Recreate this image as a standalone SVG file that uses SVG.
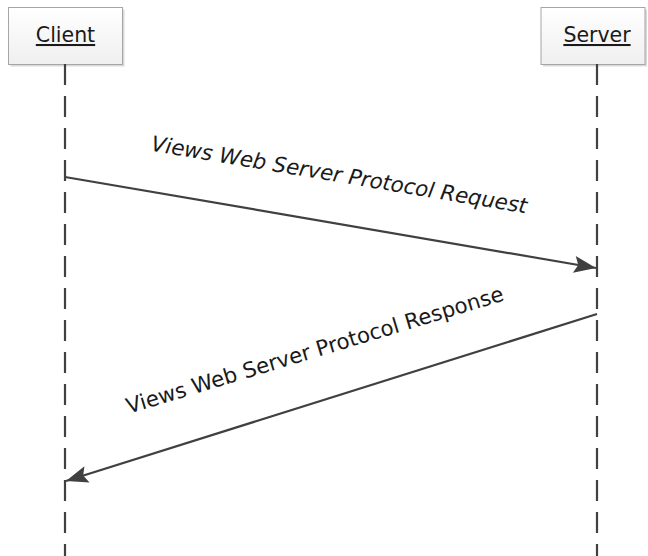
<svg xmlns="http://www.w3.org/2000/svg" width="648" height="556" viewBox="0 0 648 556">
<style>
.box{fill:url(#g);stroke:#a6a6a6;stroke-width:1}
.shadow{fill:#d9d9d9}
.name{font-family:"DejaVu Sans",Verdana,sans-serif;font-size:20.5px;fill:#1a1a1a;text-anchor:middle;text-decoration:underline}
.life{stroke:#404040;stroke-width:2.2;stroke-dasharray:21 11;fill:none}
.msg{stroke:#404040;stroke-width:2.2;fill:none}
.lbl{font-family:"DejaVu Sans",Verdana,sans-serif;font-size:21.3px;fill:#1a1a1a;text-anchor:middle}
</style>
<defs>
<linearGradient id="g" x1="0" y1="0" x2="0" y2="1">
<stop offset="0" stop-color="#ffffff"/>
<stop offset="1" stop-color="#efefef"/>
</linearGradient>
<marker id="arr" markerUnits="userSpaceOnUse" markerWidth="26" markerHeight="20" viewBox="-23 -10 26 20" refX="0" refY="0" orient="auto">
<path d="M0,0 L-22,-8.5 L-18,0 L-22,8.5 Z" fill="#404040"/>
</marker>
</defs>
<rect width="648" height="556" fill="#ffffff"/>
<g id="client">
<rect class="shadow" x="10.5" y="9.5" width="114" height="57"/>
<rect class="box" x="8.5" y="7.5" width="114" height="57"/>
<text class="name" x="65.5" y="42">Client</text>
</g>
<g id="server">
<rect class="shadow" x="543" y="9.5" width="104" height="57"/>
<rect class="box" x="541" y="7.5" width="104" height="57"/>
<text class="name" x="597" y="42">Server</text>
</g>
<g id="connectors">
<line class="life" x1="65" y1="64" x2="65" y2="556"/>
<line class="life" x1="597" y1="64" x2="597" y2="556"/>
<line class="msg" x1="65" y1="177" x2="596" y2="268" marker-end="url(#arr)"/>
<line class="msg" x1="597" y1="314" x2="66" y2="481" marker-end="url(#arr)"/>
<text class="lbl" font-style="italic" transform="translate(338,182) rotate(9.5)">Views Web Server Protocol Request</text>
<text class="lbl" transform="translate(317,357) rotate(-16.8)">Views Web Server Protocol Response</text>
</g>
</svg>
